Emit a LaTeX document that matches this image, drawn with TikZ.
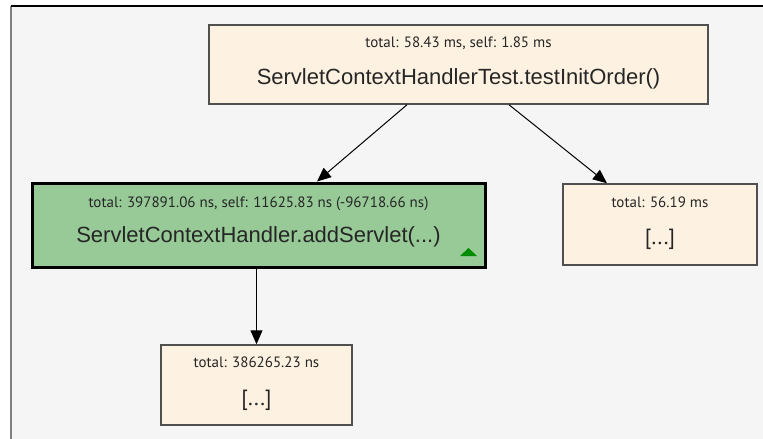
\documentclass[tikz,border=0pt]{standalone}
\usepackage{fontspec}
\setmainfont{Liberation Sans}
\newfontfamily\narrowfont{PT Sans}
\usetikzlibrary{arrows.meta,shadows}
\definecolor{bgc}{HTML}{F5F5F5}
\definecolor{cream}{HTML}{FDF2E1}
\definecolor{boxedge}{HTML}{505050}
\definecolor{hotgreen}{HTML}{97CA97}
\definecolor{tri}{HTML}{008A00}
\definecolor{ink}{HTML}{262626}
\begin{document}
\begin{tikzpicture}[x=1pt,y=-1pt,
 box/.style={draw=boxedge, line width=1.5pt, fill=cream, inner sep=0pt,
   drop shadow={shadow xshift=1pt, shadow yshift=-1pt, fill=black, opacity=0.35}},
 hotbox/.style={draw=black, line width=3pt, fill=hotgreen, inner sep=0pt},
 small/.style={font=\narrowfont\fontsize{15}{17}\selectfont, text=ink, inner sep=0pt},
 big/.style={font=\fontsize{22}{26}\selectfont, text=ink, inner sep=0pt},
 dots/.style={font=\narrowfont\fontsize{22}{26}\selectfont, text=ink, inner sep=0pt},
 conn/.style={draw=black, line width=1pt, -{Triangle[length=14pt,width=12pt]}}]
\useasboundingbox (0,0) rectangle (763,439);
\fill[white] (0,0) rectangle (763,439);
\fill[bgc] (11,6) rectangle (763,439);
\draw[gray, line width=1.5pt] (11,6) -- (11,439);
\draw[black, line width=1.5pt] (11,6) -- (763,6);

\node[box, minimum width=499pt, minimum height=79pt] (top) at (458.5,64.5) {};
\node[small] (topa) at ([yshift=-19pt]top.north) {total: 58.43 ms, self: 1.85 ms};
\node[big] (topb) at ([yshift=-55pt]top.north) {ServletContextHandlerTest.testInitOrder()};

\node[hotbox, minimum width=453pt, minimum height=84pt] (hot) at (258.5,225) {};
\node[small] (hota) at ([yshift=-22pt]hot.north) {total: 397891.06 ns, self: 11625.83 ns (-96718.66 ns)};
\node[big] (hotb) at ([yshift=-55pt]hot.north) {ServletContextHandler.addServlet(...)};
\fill[tri] (460,256) -- (477,256) -- (468.5,248) -- cycle;

\node[box, minimum width=194pt, minimum height=81pt] (right) at (660,224.5) {};
\node[small] (righta) at ([yshift=-19pt]right.north) {total: 56.19 ms};
\node[dots] (rightb) at ([yshift=-56pt]right.north) {[...]};

\node[box, minimum width=191pt, minimum height=80pt] (bot) at (256.5,385) {};
\node[small] (bota) at ([yshift=-18pt]bot.north) {total: 386265.23 ns};
\node[dots] (botb) at ([yshift=-56pt]bot.north) {[...]};

\draw[conn] ([xshift=-51.5pt]top.south) -- ([xshift=58.5pt]hot.north);
\draw[conn] ([xshift=50.5pt]top.south) -- ([xshift=-53pt]right.north);
\draw[conn] (hot.south -| bot.north) -- (bot.north);
\end{tikzpicture}
\end{document}
